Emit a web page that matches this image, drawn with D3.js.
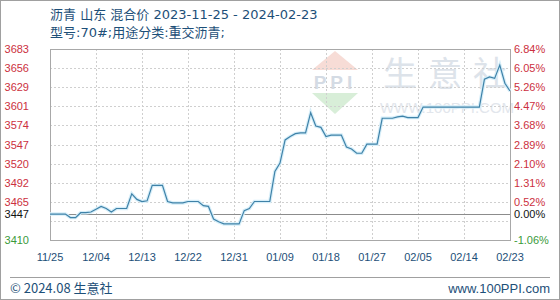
<!DOCTYPE html>
<html>
<head>
<meta charset="utf-8">
<script src="https://cdn.jsdelivr.net/npm/d3@7"></script>
<style>
  body { margin: 0; background: #fff; }
  svg { display: block; }
</style>
</head>
<body>
<svg id="chart" width="560" height="300"></svg>
<script>
// daily prices, 2023-11-25 .. 2024-02-23
var startDate = new Date(2023, 10, 25);
var prices = [
  3447, 3447, 3447, 3447, 3442, 3442, 3449, 3449, 3450, 3454,
  3458, 3455, 3450, 3455, 3455, 3455, 3476, 3468, 3465, 3466,
  3488, 3488, 3488, 3465, 3463, 3463, 3463, 3465, 3465, 3465,
  3459, 3458, 3440, 3436, 3433, 3433, 3433, 3433, 3452, 3455,
  3465, 3465, 3465, 3465, 3508, 3520, 3553, 3558, 3562, 3563,
  3563, 3592, 3573, 3571, 3558, 3560, 3560, 3560, 3543, 3540,
  3534, 3534, 3547, 3547, 3547, 3584, 3584, 3584, 3586, 3587,
  3585, 3585, 3585, 3600, 3600, 3600, 3600, 3600, 3600, 3600,
  3600, 3600, 3600, 3600, 3600, 3640, 3643, 3641, 3660, 3634,
  3623
];
var basePrice = 3447;
var leftTicks = [3683, 3656, 3629, 3601, 3574, 3547, 3520, 3492, 3465, 3447, 3410];
var rightTicks = ['6.84%', '6.05%', '5.26%', '4.47%', '3.68%', '2.89%', '2.10%', '1.31%', '0.52%', '0.00%', '-1.06%'];
var xTicks = ['11/25', '12/04', '12/13', '12/22', '12/31', '01/09', '01/18', '01/27', '02/05', '02/14', '02/23'];
var title = '沥青 山东 混合价 2023-11-25 - 2024-02-23';
var subtitle = '型号:70#;用途分类:重交沥青;';

var svg = d3.select('#chart');
var pLeft = 50, pRight = 510, pTop = 49, pBottom = 240;

var days = prices.map(function(p, i) { return d3.timeDay.offset(startDate, i); });
var x = d3.scaleTime()
          .domain([startDate, days[days.length - 1]])
          .range([pLeft, pRight]);
var y = d3.scaleLinear().domain([3410, 3683]).range([pBottom, pTop]);

// outer frame
svg.append('rect')
   .attr('x', 0.5).attr('y', 0.5).attr('width', 559).attr('height', 299)
   .attr('fill', '#fff').attr('stroke', '#a0a0a0');

// titles
var titleFont = '13px "DejaVu Sans", "Noto Sans CJK SC", sans-serif';
svg.append('text').attr('x', 50).attr('y', 19).text(title)
   .attr('fill', '#1d4f78').style('font', titleFont);
svg.append('text').attr('x', 50).attr('y', 37).text(subtitle)
   .attr('fill', '#1d4f78').style('font', titleFont);

// watermark
var wm = svg.append('g');
wm.append('path').attr('d', 'M312,70 L335,51 L358,70 Z').attr('fill', '#f7dcd6');
wm.append('path').attr('d', 'M312,93 L358,93 L335,114 Z').attr('fill', '#d8eed8');
wm.append('text').attr('x', 335).attr('y', 89).attr('text-anchor', 'middle')
  .text('PPI').attr('fill', '#d4dbe4')
  .style('font', 'bold 19px "Liberation Sans", sans-serif').style('letter-spacing', '4px');
wm.selectAll('.wmc').data(['生', '意', '社']).enter().append('text')
  .attr('x', function(d, i) { return 400 + i * 45; })
  .attr('y', 86).attr('text-anchor', 'middle').text(function(d) { return d; })
  .attr('fill', '#dde3ea').style('font', '34px "Noto Sans CJK SC", sans-serif');
wm.append('text').attr('x', 447).attr('y', 113).attr('text-anchor', 'middle')
  .text('WWW.100PPI.COM').attr('fill', '#e2e6ec')
  .style('font', '15px "Liberation Sans", sans-serif');

// grid
var yGrid = d3.range(11).map(function(i) { return 3410 + i * 27.3; });
svg.selectAll('.hg').data(yGrid.slice(1, 10)).enter().append('line')
   .attr('x1', pLeft).attr('x2', pRight)
   .attr('y1', function(d) { return Math.round(y(d)) + 0.5; })
   .attr('y2', function(d) { return Math.round(y(d)) + 0.5; })
   .attr('stroke', '#cfcfcf').attr('stroke-dasharray', '2,2');
var xGridDays = d3.range(1, 10).map(function(i) { return d3.timeDay.offset(startDate, i * 9); });
svg.selectAll('.vg').data(xGridDays).enter().append('line')
   .attr('x1', function(d) { return Math.round(x(d)) + 0.5; })
   .attr('x2', function(d) { return Math.round(x(d)) + 0.5; })
   .attr('y1', pTop).attr('y2', pBottom)
   .attr('stroke', '#cfcfcf').attr('stroke-dasharray', '2,2');

// base line
svg.append('line')
   .attr('x1', pLeft).attr('x2', pRight)
   .attr('y1', Math.round(y(basePrice)) + 0.5).attr('y2', Math.round(y(basePrice)) + 0.5)
   .attr('stroke', '#8c8c8c');

// plot frame
svg.append('rect')
   .attr('x', pLeft + 0.5).attr('y', pTop + 0.5)
   .attr('width', pRight - pLeft).attr('height', pBottom - pTop)
   .attr('fill', 'none').attr('stroke', '#a8a8a8');

// price line
var line = d3.line()
             .x(function(d, i) { return x(days[i]); })
             .y(function(d) { return y(d); });
svg.append('path').datum(prices).attr('d', line)
   .attr('fill', 'none').attr('stroke', '#d6eef9').attr('stroke-width', 3.5);
svg.append('path').datum(prices).attr('d', line)
   .attr('fill', 'none').attr('stroke', '#3f82a8').attr('stroke-width', 1.2);

// y labels
function tickColor(i) {
  if (i === 9) return '#111';
  if (i === 10) return '#3a9a3a';
  return '#cc3040';
}
var ticksY = leftTicks.map(function(v, i) { return i === 9 ? basePrice : yGrid[10 - i]; });
svg.selectAll('.ly').data(leftTicks).enter().append('text')
   .attr('x', 29).attr('y', function(d, i) { return y(ticksY[i]) + 4; })
   .attr('text-anchor', 'end').text(function(d) { return d; })
   .attr('fill', function(d, i) { return tickColor(i); })
   .style('font', '11px "Liberation Sans", sans-serif');
svg.selectAll('.ry').data(rightTicks).enter().append('text')
   .attr('x', 514).attr('y', function(d, i) { return y(ticksY[i]) + 4; })
   .text(function(d) { return d; })
   .attr('fill', function(d, i) { return tickColor(i); })
   .style('font', '11px "Liberation Sans", sans-serif');

// x labels
svg.selectAll('.xl').data(xTicks).enter().append('text')
   .attr('x', function(d, i) { return x(d3.timeDay.offset(startDate, i * 9)); })
   .attr('y', 261).attr('text-anchor', 'middle').text(function(d) { return d; })
   .attr('fill', '#1d4f78')
   .style('font', '11px "Liberation Sans", sans-serif');

// footer
svg.append('line').attr('x1', 10).attr('x2', 550).attr('y1', 277.5).attr('y2', 277.5)
   .attr('stroke', '#a0a0a0');
svg.append('text').attr('x', 10).attr('y', 293).text('© 2024.08 生意社')
   .attr('fill', '#1d4f78').style('font', '13px "Noto Sans CJK SC", sans-serif');
svg.append('text').attr('x', 550).attr('y', 293).attr('text-anchor', 'end')
   .text('www.100PPI.com')
   .attr('fill', '#1d4f78').style('font', '13px "Liberation Sans", sans-serif');
</script>
</body>
</html>
